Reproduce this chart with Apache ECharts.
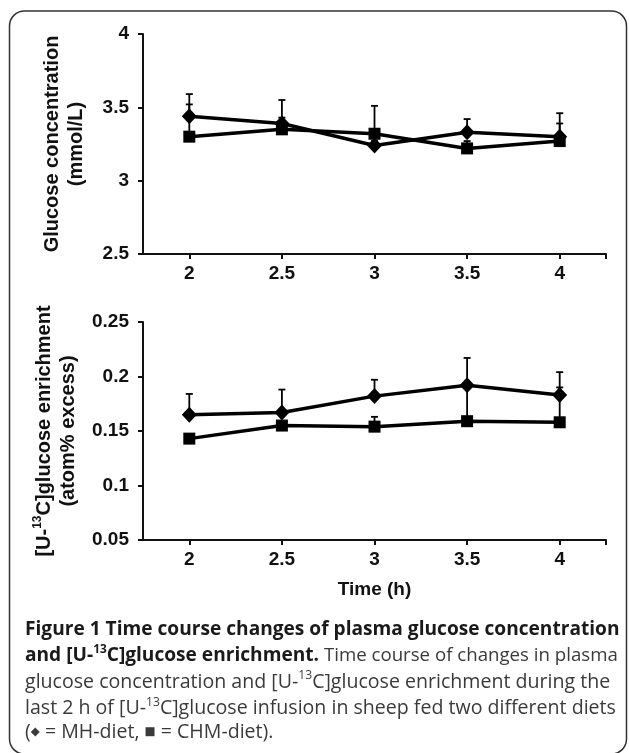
<!DOCTYPE html>
<html>
<head>
<meta charset="utf-8">
<script src="https://cdn.jsdelivr.net/npm/echarts@6/dist/echarts.min.js"></script>
<style>
html,body{margin:0;padding:0;background:#fff;}
#chart{width:629px;height:753px;}
</style>
</head>
<body>
<div id="chart"></div>
<script>
// ---- data ----
const times = [2, 2.5, 3, 3.5, 4];
const xTickLabels = [2, 2.5, 3, 3.5, 4];
const xTickMarks = [2, 2.5, 3, 3.5, 4, 4.25];

const glucoseMH = [3.44, 3.39, 3.24, 3.33, 3.30];
const glucoseMHErr = [0.15, 0.16, 0.03, 0.09, 0.16];
const glucoseCHM = [3.30, 3.35, 3.32, 3.22, 3.27];
const glucoseCHMErr = [0.22, 0.08, 0.19, 0.05, 0.12];

const enrichMH = [0.165, 0.167, 0.182, 0.192, 0.183];
const enrichMHErr = [0.019, 0.021, 0.015, 0.025, 0.021];
const enrichCHM = [0.143, 0.155, 0.154, 0.159, 0.158];
const enrichCHMErr = [0.004, 0.004, 0.009, 0.031, 0.032];

const glucoseTicks = {min: 2.5, max: 4, interval: 0.5};
const enrichTicks = {min: 0.05, max: 0.25, interval: 0.05};

// ---- styling helpers ----
const AX = 'Liberation Sans';
const INK = '#111';

function xAxis(gridIndex, extra) {
  return Object.assign({
    type: 'value', gridIndex, min: 1.75, max: 4.25,
    axisLine: {show: true, onZero: false, lineStyle: {color: INK, width: 2}},
    axisTick: {show: true, length: 5, customValues: xTickMarks, lineStyle: {color: INK, width: 2}},
    axisLabel: {customValues: xTickLabels, margin: 10, fontSize: 19, fontWeight: 'bold', fontFamily: AX, color: INK},
    splitLine: {show: false}
  }, extra || {});
}
function yAxis(gridIndex, ticks, name, gap, rich) {
  return {
    type: 'value', gridIndex, min: ticks.min, max: ticks.max, interval: ticks.interval,
    axisLine: {show: true, lineStyle: {color: INK, width: 2}},
    axisTick: {show: true, length: 5, lineStyle: {color: INK, width: 2}},
    axisLabel: {margin: 14, fontSize: 19, fontWeight: 'bold', fontFamily: AX, color: INK},
    splitLine: {show: false},
    name, nameLocation: 'middle', nameRotate: 90, nameGap: gap,
    nameTextStyle: {fontSize: 20, fontWeight: 'bold', fontFamily: AX, color: INK, lineHeight: 24, rich: rich || {}}
  };
}
function lineSeries(idx, vals, symbol, size) {
  return {
    type: 'line', xAxisIndex: idx, yAxisIndex: idx, z: 3,
    data: times.map((t, i) => [t, vals[i]]),
    symbol, symbolSize: size, showSymbol: true,
    itemStyle: {color: '#000'},
    lineStyle: {color: '#000', width: 3.5},
    emphasis: {disabled: true}
  };
}
function errSeries(idx, vals, errs) {
  return {
    type: 'custom', xAxisIndex: idx, yAxisIndex: idx, z: 2,
    data: times.map((t, i) => [t, vals[i], errs[i]]),
    renderItem: function (params, api) {
      const x = api.value(0), y = api.value(1), e = api.value(2);
      const p0 = api.coord([x, y]);
      const p1 = api.coord([x, y + e]);
      const st = {stroke: '#000', lineWidth: 1.8};
      return {type: 'group', children: [
        {type: 'line', shape: {x1: p0[0], y1: p0[1], x2: p1[0], y2: p1[1]}, style: st},
        {type: 'line', shape: {x1: p1[0] - 3.5, y1: p1[1], x2: p1[0] + 3.5, y2: p1[1]}, style: st}
      ]};
    }
  };
}

// ---- caption ----
const CAP = '"Open Sans", "Noto Sans", sans-serif';
const capLines = [
  [['b', 'Figure 1 Time course changes of plasma glucose concentration']],
  [['b', 'and [U-'], ['bs', '13'], ['b', 'C]glucose enrichment.'], ['r2', ' Time course of changes in plasma']],
  [['r', 'glucose concentration and [U-'], ['rs', '13'], ['r', 'C]glucose enrichment during the']],
  [['r', 'last 2 h of [U-'], ['rs', '13'], ['r', 'C]glucose infusion in sheep fed two different diets']],
  [['r', '('], ['sym', '\u25C6'], ['r', ' = MH-diet, '], ['sym', '\u25A0'], ['r', ' = CHM-diet).']]
];
const capY = [632, 656, 682, 708.5, 734];

const mctx = document.createElement('canvas').getContext('2d');
function fontOf(key, b, r, r2) {
  if (key === 'b') return 'bold ' + b + 'px ' + CAP;
  if (key === 'bs') return 'bold ' + (b * 0.62) + 'px ' + CAP;
  if (key === 'r') return r + 'px ' + CAP;
  if (key === 'r2') return (r2 || r) + 'px ' + CAP;
  if (key === 'rs') return (r * 0.62) + 'px ' + CAP;
  return (r * 0.6) + 'px "DejaVu Sans"';
}
function lineWidth(line, b, r, r2) {
  let w = 0;
  line.forEach(([k, t]) => { mctx.font = fontOf(k, b, r, r2); w += mctx.measureText(t).width; });
  return w;
}
let bSize = 17 * 595 / lineWidth(capLines[0], 17, 17);
let rSize = 17 * 591 / lineWidth(capLines[3], 17, 17);
bSize = Math.max(13, Math.min(21, bSize));
rSize = Math.max(13, Math.min(21, rSize));
// second line: regular part squeezed to end at x≈618 like the reference
const l2Bold = lineWidth(capLines[1].slice(0, 3), bSize, rSize);
mctx.font = rSize + 'px ' + CAP;
const l2RegW = mctx.measureText(capLines[1][3][1]).width;
let r2Size = rSize * Math.min(1, (593 - l2Bold) / l2RegW);

const capRich = {
  b: {fontFamily: CAP, fontWeight: 'bold', fontSize: bSize, fill: '#1a1a1a', lineHeight: 24},
  bs: {fontFamily: CAP, fontWeight: 'bold', fontSize: bSize * 0.62, fill: '#1a1a1a', verticalAlign: 'top', lineHeight: 12},
  r: {fontFamily: CAP, fontSize: rSize, fill: '#3a3a3a', lineHeight: 24},
  r2: {fontFamily: CAP, fontSize: r2Size, fill: '#3a3a3a', lineHeight: 24},
  rs: {fontFamily: CAP, fontSize: rSize * 0.62, fill: '#3a3a3a', verticalAlign: 'top', lineHeight: 12},
  sym: {fontFamily: 'DejaVu Sans', fontSize: rSize * 0.6, fill: '#3a3a3a', lineHeight: 24}
};
const captionGraphics = capLines.map((line, i) => ({
  type: 'text', left: 25, top: capY[i] - 12,
  style: {
    text: line.map(([k, t]) => '{' + k + '|' + t + '}').join(''),
    rich: capRich, verticalAlign: 'top'
  }
}));

const chart = echarts.init(document.getElementById('chart'), null, {renderer: 'canvas'});
chart.setOption({
  animation: false,
  backgroundColor: '#fff',
  grid: [
    {left: 143, top: 34, width: 463, height: 220},
    {left: 143, top: 322, width: 463, height: 218}
  ],
  xAxis: [
    xAxis(0),
    xAxis(1, {name: 'Time (h)', nameLocation: 'middle', nameGap: 40,
      nameTextStyle: {fontSize: 19, fontWeight: 'bold', fontFamily: AX, color: INK}})
  ],
  yAxis: [
    yAxis(0, glucoseTicks, 'Glucose concentration\n(mmol/L)', 55),
    yAxis(1, enrichTicks, '{n|[U-}{s|13}{n|C]glucose enrichment}\n{n|(atom% excess)}', 63, {
      n: {fontSize: 20, fontWeight: 'bold', fontFamily: AX, color: INK, lineHeight: 24},
      s: {fontSize: 12, fontWeight: 'bold', fontFamily: AX, color: INK, verticalAlign: 'top', lineHeight: 12}
    })
  ],
  series: [
    errSeries(0, glucoseMH, glucoseMHErr),
    errSeries(0, glucoseCHM, glucoseCHMErr),
    lineSeries(0, glucoseMH, 'diamond', [15, 16]),
    lineSeries(0, glucoseCHM, 'rect', 12),
    errSeries(1, enrichMH, enrichMHErr),
    errSeries(1, enrichCHM, enrichCHMErr),
    lineSeries(1, enrichMH, 'diamond', [15, 16]),
    lineSeries(1, enrichCHM, 'rect', 12)
  ],
  graphic: [
    {type: 'rect', shape: {x: 9.5, y: 11, width: 617, height: 743, r: 15},
      style: {fill: 'none', stroke: '#333', lineWidth: 1.5}, silent: true}
  ].concat(captionGraphics)
});
</script>
</body>
</html>
